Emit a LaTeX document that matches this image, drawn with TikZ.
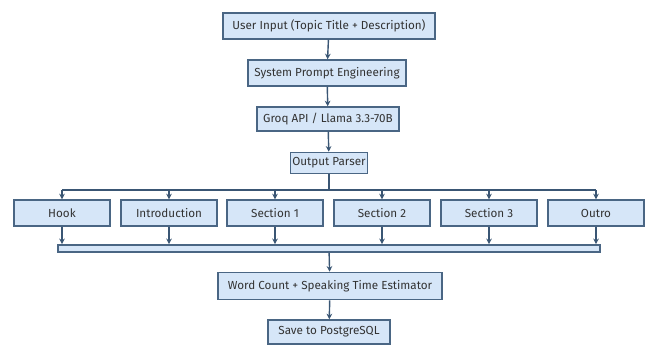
\documentclass[tikz,border=0pt]{standalone}
\usepackage{fontspec}
\setmainfont{Fira Sans}
\usetikzlibrary{positioning}
\usetikzlibrary{arrows.meta}
\definecolor{boxfill}{HTML}{D6E6F8}
\definecolor{boxline}{HTML}{4A6684}
\definecolor{arrline}{HTML}{3A5674}
\tikzset{
    stepbox/.style = {rectangle, draw=boxline, fill=boxfill, line width=1pt, align=center, inner sep=1.5pt, minimum height=0.65cm, font=\fontsize{8.3}{9}\selectfont, text=black!80},
    partbox/.style = {stepbox, minimum width=2.4cm},
    edgea/.style = {-{Stealth[length=4pt,width=4pt]}, line width=1pt, arrline},
    edgen/.style = {-, line width=1pt, arrline}
}
\begin{document}
\begin{tikzpicture}[x=0.025cm,y=-0.025cm]
  \useasboundingbox (0,0) rectangle (645,345);
  % main chain
  \node[stepbox, minimum width=5.3cm] (inp) at (329,26) {User Input (Topic Title + Description)};
  \node[stepbox, minimum width=3.95cm] (sys) at (327,73) {System Prompt Engineering};
  \node[stepbox, minimum width=3.55cm, minimum height=0.6cm] (llm) at (328,119) {Groq API / Llama 3.3-70B};
  \node[stepbox, minimum width=1.9cm, minimum height=0.53cm] (par) at (329,163) {Output Parser};
  % script parts
  \node[partbox] (hook) at (62,213) {Hook};
  \node[partbox] (intro) at (169,213) {Introduction};
  \node[partbox] (s1) at (275,213) {Section 1};
  \node[partbox] (s2) at (382,213) {Section 2};
  \node[partbox] (s3) at (489,213) {Section 3};
  \node[partbox] (outro) at (596,213) {Outro};
  % merge bar
  \node[stepbox, minimum height=0.18cm, minimum width=13.55cm, inner sep=0pt] (bar) at (329,248.5) {};
  \node[stepbox, minimum width=5.6cm, minimum height=0.68cm] (cnt) at (330,286) {Word Count + Speaking Time Estimator};
  \node[stepbox, minimum width=3.05cm, minimum height=0.6cm] (db) at (329,332) {Save to PostgreSQL};
  \coordinate (split) at (329,190);
  \draw[edgea] (inp) -- (sys);
  \draw[edgea] (sys) -- (llm);
  \draw[edgea] (llm) -- (par);
  \draw[edgen] (par) -- (split);
  \draw[edgen] (hook.north |- split) -- (outro.north |- split);
  \foreach \p in {hook,intro,s1,s2,s3,outro} {
    \draw[edgea] (\p.north |- split) -- (\p.north);
    \draw[edgea] (\p.south) -- (\p.south |- bar.north);
  }
  \draw[edgea] (bar) -- (cnt);
  \draw[edgea] (cnt) -- (db);
\end{tikzpicture}
\end{document}
